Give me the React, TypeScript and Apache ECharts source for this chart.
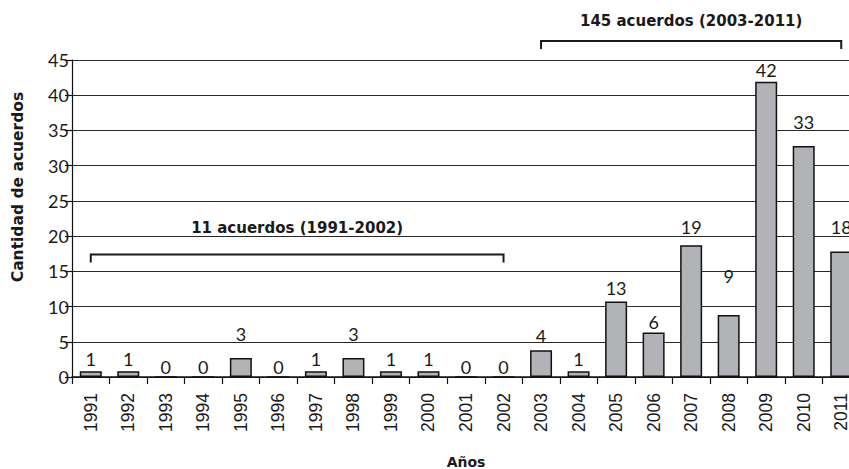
import React, { useEffect, useRef } from "react";
import * as echarts from "echarts";

const years = ["1991","1992","1993","1994","1995","1996","1997","1998","1999","2000","2001","2002","2003","2004","2005","2006","2007","2008","2009","2010","2011"];
const barHeights = [0.8, 0.8, 0, 0, 2.7, 0, 0.8, 2.7, 0.8, 0.8, 0, 0, 3.8, 0.8, 10.7, 6.3, 18.7, 8.8, 41.9, 32.8, 17.8];
const labelValues = [1, 1, 0, 0, 3, 0, 1, 3, 1, 1, 0, 0, 4, 1, 13, 6, 19, 9, 42, 33, 18];
const yMin = 0;
const yMax = 45;
const yStep = 5;
const bracketStartYears = ["1991", "2003"];
const bracketEndYears = ["2002", "2011"];
const bracketLevels = [17.4, 47.7];
const bracketTextLevels = [21.2, 50.5];
const bracketTexts = ["11 acuerdos (1991-2002)", "145 acuerdos (2003-2011)"];
const xAxisTitle = "Años";
const yAxisTitle = "Cantidad de acuerdos";

// label gaps above bars (style)
const labelGap = [3, 3, 0, 0, 15, 0, 3, 15, 3, 3, 0, 0, 5, 3, 5, 2, 9, 30, 3, 15, 16];

const TEXT = "#1a1a1a";

export default function App() {
  const ref = useRef<HTMLDivElement>(null);
  useEffect(() => {
    if (!ref.current) return;
    const chart = echarts.init(ref.current, null, { renderer: "svg" });
    const bracketData = bracketStartYears.map((s, i) => [
      years.indexOf(s),
      years.indexOf(bracketEndYears[i]),
      bracketLevels[i],
      bracketTextLevels[i],
    ]);
    chart.setOption({
      animation: false,
      backgroundColor: "#fff",
      grid: { left: 72, right: 20, top: 60, bottom: 92, containLabel: false },
      xAxis: {
        type: "category",
        data: years,
        boundaryGap: true,
        axisLine: { show: true, lineStyle: { color: "#111", width: 1.5 } },
        axisTick: { show: true, length: 7, lineStyle: { color: "#111", width: 1.2 } },
        axisLabel: {
          rotate: 90,
          margin: 16,
          interval: 0,
          fontFamily: "Liberation Sans",
          fontSize: 17.5,
          color: "#1a1a1a",
        },
      },
      yAxis: {
        type: "value",
        min: yMin,
        max: yMax,
        interval: yStep,
        axisLine: { show: true, lineStyle: { color: "#111", width: 1.2 } },
        axisTick: { show: true, length: 7, lineStyle: { color: "#111", width: 1.2 } },
        axisLabel: {
          margin: 3,
          fontFamily: "Lato",
          fontWeight: 400,
          fontSize: 18,
          color: TEXT,
        },
        splitLine: { show: true, lineStyle: { color: "#2a2a2a", width: 1 } },
      },
      series: [
        {
          type: "bar",
          barWidth: 22,
          data: barHeights.map((v, i) => ({
            value: v,
            label: { distance: labelGap[i] },
          })),
          itemStyle: { color: "#b1b3b6", borderColor: "#111", borderWidth: 1.5 },
          label: {
            show: true,
            position: "top",
            formatter: (p: any) => String(labelValues[p.dataIndex]),
            fontFamily: "Lato",
            fontWeight: 400,
            fontSize: 18,
            color: TEXT,
          },
          z: 2,
        },
        {
          type: "custom",
          clip: false,
          z: 5,
          encode: { x: [0, 1], y: [2, 3] },
          data: bracketData,
          renderItem: (params: any, api: any) => {
            const s = api.coord([api.value(0), api.value(2)]);
            const e = api.coord([api.value(1), api.value(2)]);
            const t = api.coord([api.value(0), api.value(3)]);
            return {
              type: "group",
              children: [
                {
                  type: "polyline",
                  shape: {
                    points: [
                      [s[0], s[1] + 8],
                      [s[0], s[1]],
                      [e[0], e[1]],
                      [e[0], e[1] + 8],
                    ],
                  },
                  style: { stroke: TEXT, lineWidth: 2, fill: null },
                },
                {
                  type: "text",
                  x: (s[0] + e[0]) / 2,
                  y: t[1],
                  style: {
                    text: bracketTexts[params.dataIndex],
                    align: "center",
                    verticalAlign: "middle",
                    font: 'bold 15px "DejaVu Sans"',
                    fill: TEXT,
                  },
                },
              ],
            };
          },
        },
      ],
      graphic: [
        {
          type: "text",
          x: 18,
          y: 187,
          rotation: Math.PI / 2,
          style: {
            text: yAxisTitle,
            align: "center",
            verticalAlign: "middle",
            font: 'bold 15.5px "DejaVu Sans"',
            fill: TEXT,
          },
        },
        {
          type: "text",
          x: 466,
          y: 462,
          style: {
            text: xAxisTitle,
            align: "center",
            verticalAlign: "middle",
            font: 'bold 14px "DejaVu Sans"',
            fill: TEXT,
          },
        },
      ],
    });
    return () => chart.dispose();
  }, []);
  return (
    <div
      style={{
        position: "fixed",
        left: 0,
        top: 0,
        width: 849,
        height: 469,
        overflow: "hidden",
        background: "#fff",
      }}
    >
      <div ref={ref} style={{ width: 880, height: 469 }} />
    </div>
  );
}
